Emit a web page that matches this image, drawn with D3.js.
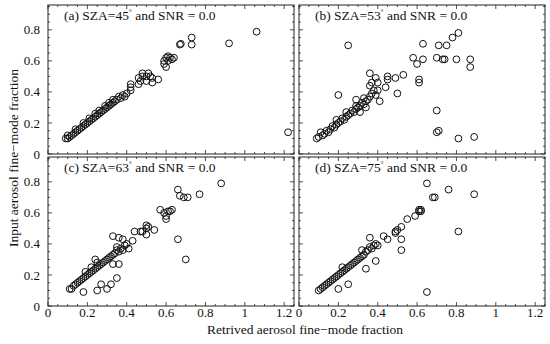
<!DOCTYPE html>
<html>
<head>
<meta charset="utf-8">
<script src="https://cdnjs.cloudflare.com/ajax/libs/d3/7.8.5/d3.min.js"></script>
<style>
  body { margin: 0; background: #fff; }
  text { font-family: "Liberation Serif", "Times New Roman", serif; fill: #111; }
</style>
</head>
<body>
<script>
// Retrieved (x) vs input (y) fine-mode fraction, one array per panel
var fmfA = [
  [0.09,0.10],[0.10,0.10],[0.11,0.11],[0.10,0.12],[0.12,0.12],[0.13,0.13],[0.14,0.14],[0.15,0.15],
  [0.14,0.16],[0.16,0.16],[0.17,0.17],[0.18,0.18],[0.19,0.19],[0.18,0.20],[0.20,0.20],[0.21,0.21],
  [0.22,0.22],[0.21,0.23],[0.23,0.23],[0.24,0.24],[0.25,0.25],[0.24,0.26],[0.26,0.26],[0.27,0.27],
  [0.26,0.28],[0.28,0.28],[0.29,0.29],[0.30,0.30],[0.29,0.31],[0.31,0.31],[0.32,0.32],[0.31,0.33],
  [0.33,0.33],[0.34,0.34],[0.33,0.35],[0.35,0.35],[0.36,0.37],[0.37,0.36],[0.38,0.38],[0.39,0.37],
  [0.40,0.39],[0.42,0.41],[0.42,0.43],[0.42,0.45],[0.46,0.45],[0.47,0.47],[0.46,0.49],[0.48,0.50],
  [0.48,0.52],[0.50,0.50],[0.50,0.47],[0.52,0.50],[0.51,0.52],[0.53,0.49],[0.53,0.46],[0.56,0.48],
  [0.59,0.60],[0.60,0.62],[0.61,0.63],[0.62,0.62],[0.63,0.61],[0.64,0.62],[0.59,0.58],[0.60,0.56],
  [0.61,0.60],[0.67,0.705],[0.675,0.71],[0.73,0.75],[0.73,0.705],[0.92,0.713],[1.06,0.788],[1.22,0.14]
];
var fmfB = [
  [0.09,0.10],[0.10,0.11],[0.12,0.12],[0.11,0.14],[0.13,0.13],[0.14,0.15],[0.15,0.14],[0.16,0.16],
  [0.17,0.18],[0.18,0.17],[0.19,0.19],[0.20,0.20],[0.19,0.22],[0.21,0.21],[0.22,0.23],[0.23,0.22],
  [0.24,0.24],[0.25,0.25],[0.24,0.27],[0.26,0.26],[0.27,0.28],[0.28,0.27],[0.29,0.29],[0.30,0.30],
  [0.29,0.31],[0.31,0.31],[0.32,0.33],[0.33,0.32],[0.34,0.34],[0.33,0.36],[0.35,0.35],[0.36,0.37],
  [0.29,0.35],[0.31,0.27],[0.34,0.30],[0.37,0.39],[0.38,0.41],[0.36,0.44],[0.37,0.46],[0.39,0.49],
  [0.40,0.46],[0.36,0.52],[0.40,0.41],[0.39,0.38],[0.41,0.34],[0.44,0.43],[0.45,0.50],[0.45,0.48],
  [0.49,0.49],[0.53,0.51],[0.50,0.39],[0.20,0.38],[0.25,0.70],
  [0.58,0.62],[0.60,0.58],[0.63,0.61],[0.63,0.71],[0.61,0.48],[0.61,0.46],[0.71,0.70],[0.75,0.70],
  [0.78,0.75],[0.81,0.78],[0.70,0.62],[0.73,0.61],[0.74,0.61],[0.80,0.61],[0.87,0.61],[0.87,0.56],
  [0.70,0.28],[0.70,0.14],[0.71,0.15],[0.81,0.10],[0.89,0.11]
];
var fmfC = [
  [0.11,0.11],[0.12,0.11],[0.13,0.13],[0.14,0.14],[0.15,0.15],[0.16,0.16],[0.17,0.17],[0.18,0.18],
  [0.19,0.19],[0.20,0.20],[0.19,0.22],[0.21,0.21],[0.22,0.22],[0.23,0.23],[0.22,0.25],[0.24,0.24],
  [0.25,0.25],[0.26,0.26],[0.25,0.28],[0.27,0.27],[0.28,0.28],[0.29,0.29],[0.30,0.30],[0.31,0.31],
  [0.32,0.32],[0.24,0.30],[0.33,0.33],
  [0.18,0.09],[0.25,0.10],[0.30,0.11],[0.27,0.14],[0.32,0.14],[0.35,0.18],
  [0.33,0.27],[0.36,0.27],[0.34,0.34],[0.35,0.36],[0.36,0.35],[0.37,0.37],[0.38,0.36],[0.39,0.39],
  [0.40,0.40],[0.41,0.37],[0.35,0.38],[0.33,0.45],[0.36,0.44],[0.38,0.43],[0.43,0.42],[0.44,0.48],
  [0.47,0.48],[0.48,0.48],[0.50,0.46],[0.50,0.50],[0.51,0.51],[0.50,0.52],[0.54,0.49],[0.57,0.62],
  [0.59,0.60],[0.60,0.58],[0.60,0.56],[0.61,0.61],[0.62,0.61],[0.63,0.62],[0.66,0.43],[0.70,0.30],
  [0.66,0.75],[0.67,0.71],[0.69,0.70],[0.71,0.70],[0.77,0.72],[0.88,0.79]
];
var fmfD = [
  [0.10,0.10],[0.11,0.11],[0.12,0.12],[0.13,0.13],[0.14,0.14],[0.15,0.15],[0.16,0.16],[0.17,0.17],
  [0.18,0.18],[0.19,0.19],[0.20,0.20],[0.21,0.21],[0.22,0.22],[0.23,0.23],[0.22,0.25],[0.24,0.24],
  [0.25,0.25],[0.26,0.26],[0.27,0.27],[0.28,0.28],[0.29,0.29],[0.30,0.30],[0.31,0.31],[0.32,0.32],
  [0.33,0.33],[0.20,0.11],[0.25,0.14],[0.34,0.24],[0.39,0.29],
  [0.34,0.35],[0.35,0.36],[0.36,0.38],[0.37,0.37],[0.38,0.39],[0.39,0.40],[0.40,0.39],[0.32,0.36],
  [0.36,0.44],[0.43,0.45],[0.45,0.43],[0.49,0.48],[0.50,0.49],[0.49,0.47],[0.52,0.51],[0.52,0.43],
  [0.52,0.36],[0.55,0.56],[0.59,0.58],[0.61,0.61],[0.61,0.62],[0.62,0.62],[0.62,0.61],[0.65,0.79],
  [0.68,0.70],[0.69,0.70],[0.76,0.75],[0.89,0.72],[0.81,0.48],[0.65,0.09]
];

var panelTags = ["(a)", "(b)", "(c)", "(d)"];
var szaValues = ["45", "53", "63", "75"];
var snrValue = "0.0";
var xTicks = [0, 0.2, 0.4, 0.6, 0.8, 1, 1.2];
var yTicks = [0, 0.2, 0.4, 0.6, 0.8];
var xLabel = "Retrived aerosol fine\u2212mode fraction";
var yLabel = "Input aerosol fine\u2212mode fraction";

var panelData = [fmfA, fmfB, fmfC, fmfD];

var width = 550, height = 344;
var colX = [48, 299], rowY = [5, 157];
var pw = 246, ph = 149;

var svg = d3.select("body").append("svg")
    .attr("width", width)
    .attr("height", height);

var x = d3.scaleLinear().domain([0, 1.25]).range([0, pw]);
var y = d3.scaleLinear().domain([0, 0.96]).range([ph, 0]);

var minorX = d3.range(0, 1.2501, 0.05);
var minorY = d3.range(0, 0.9601, 0.05);

panelData.forEach(function(data, i) {
    var col = i % 2, row = Math.floor(i / 2);
    var g = svg.append("g")
        .attr("transform", "translate(" + colX[col] + "," + rowY[row] + ")");

    // inward ticks on all four sides
    var tickG = g.append("g").attr("stroke", "#222").attr("stroke-width", 0.8);
    minorX.forEach(function(v) {
        var major = xTicks.some(function(t) { return Math.abs(t - v) < 1e-6; });
        var len = major ? 4 : 2;
        tickG.append("line").attr("x1", x(v)).attr("x2", x(v)).attr("y1", ph).attr("y2", ph - len);
        tickG.append("line").attr("x1", x(v)).attr("x2", x(v)).attr("y1", 0).attr("y2", len);
    });
    minorY.forEach(function(v) {
        var major = yTicks.some(function(t) { return Math.abs(t - v) < 1e-6; });
        var len = major ? 4 : 2;
        tickG.append("line").attr("x1", 0).attr("x2", len).attr("y1", y(v)).attr("y2", y(v));
        tickG.append("line").attr("x1", pw).attr("x2", pw - len).attr("y1", y(v)).attr("y2", y(v));
    });

    g.append("rect")
        .attr("width", pw)
        .attr("height", ph)
        .attr("fill", "none")
        .attr("stroke", "#222")
        .attr("stroke-width", 1);

    g.selectAll("circle")
        .data(data)
        .enter().append("circle")
        .attr("cx", function(d) { return x(d[0]); })
        .attr("cy", function(d) { return y(d[1]); })
        .attr("r", 3.4)
        .attr("fill", "none")
        .attr("stroke", "#111")
        .attr("stroke-width", 1);

    // panel caption
    var cap = g.append("text")
        .attr("x", 16)
        .attr("y", 15)
        .style("font-size", "13.5px");
    cap.append("tspan").text(panelTags[i] + " SZA=" + szaValues[i]);
    cap.append("tspan").attr("dy", -6).style("font-size", "7px").text("\u00b0");
    cap.append("tspan").attr("dy", 6).text(" and SNR = " + snrValue);

    if (col === 0) {
        g.selectAll(".ytl")
            .data(yTicks)
            .enter().append("text")
            .attr("x", -8)
            .attr("y", function(d) { return y(d); })
            .attr("dy", "0.35em")
            .attr("text-anchor", "end")
            .style("font-size", "13px")
            .text(function(d) { return d3.format("")(d); });
    }
    if (row === 1) {
        g.selectAll(".xtl")
            .data(xTicks)
            .enter().append("text")
            .attr("x", function(d) { return x(d); })
            .attr("y", ph + 11)
            .attr("text-anchor", "middle")
            .style("font-size", "13px")
            .text(function(d) { return d3.format("")(d); });
    }
});

svg.append("text")
    .attr("x", 305)
    .attr("y", 334)
    .attr("text-anchor", "middle")
    .style("font-size", "13.5px")
    .text(xLabel);

svg.append("text")
    .attr("transform", "translate(18,158) rotate(-90)")
    .attr("text-anchor", "middle")
    .style("font-size", "13.5px")
    .text(yLabel);
</script>
</body>
</html>
